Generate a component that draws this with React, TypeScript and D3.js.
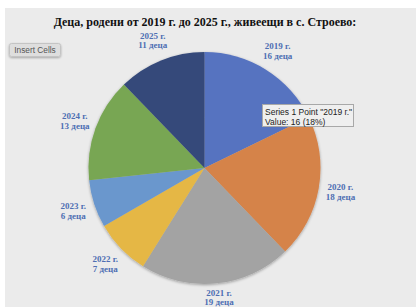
import React from "react";
import * as d3 from "d3";

const categories = ["2019 г.", "2020 г.", "2021 г.", "2022 г.", "2023 г.", "2024 г.", "2025 г."];
const values = [16, 18, 19, 7, 6, 13, 11];
const valueLabels = ["16 деца", "18 деца", "19 деца", "7 деца", "6 деца", "13 деца", "11 деца"];
const colors = ["#5673c0", "#d5834a", "#a3a3a3", "#e5b745", "#6a97cd", "#78a653", "#34497a"];
const title = "Деца, родени от 2019 г. до 2025 г., живеещи в с. Строево:";
const tooltipLines = ["Series 1 Point \"2019 г.\"", "Value: 16 (18%)"];

const W = 417;
const H = 307;

export default function App() {
  const cx = 204.5;
  const cy = 168;
  const r = 116;
  const labelR = 138;

  const pie = d3.pie<number>().sort(null).value((d) => d);
  const arcs = pie(values);
  const arcGen = d3.arc<d3.PieArcDatum<number>>().innerRadius(0).outerRadius(r);

  return (
    <svg
      width={W}
      height={H}
      style={{ position: "absolute", left: 0, top: 0, display: "block" }}
    >
      <defs>
        <filter id="sh" x="-20%" y="-20%" width="140%" height="140%">
          <feGaussianBlur in="SourceAlpha" stdDeviation="1.5" />
          <feOffset dx="0" dy="0.5" result="b" />
          <feComponentTransfer>
            <feFuncA type="linear" slope="0.35" />
          </feComponentTransfer>
          <feMerge>
            <feMergeNode />
            <feMergeNode in="SourceGraphic" />
          </feMerge>
        </filter>
        <filter id="bsh" x="-20%" y="-30%" width="140%" height="160%">
          <feGaussianBlur in="SourceAlpha" stdDeviation="1" />
          <feOffset dx="0" dy="1" />
          <feComponentTransfer>
            <feFuncA type="linear" slope="0.3" />
          </feComponentTransfer>
          <feMerge>
            <feMergeNode />
            <feMergeNode in="SourceGraphic" />
          </feMerge>
        </filter>
      </defs>
      <rect x={0} y={0} width={W} height={H} fill="#ffffff" />
      <rect x={5} y={8} width={411} height={H - 8} fill="#ebebeb" />
      <text
        x={205}
        y={26}
        textAnchor="middle"
        fontFamily="'Liberation Serif', 'Times New Roman', serif"
        fontWeight="bold"
        fontSize={12}
        fill="#111"
      >
        {title}
      </text>

      <g transform={`translate(${cx},${cy})`} filter="url(#sh)">
        {arcs.map((a, i) => (
          <path key={categories[i]} d={arcGen(a) || ""} fill={colors[i]} />
        ))}
      </g>

      {arcs.map((a, i) => {
        const mid = (a.startAngle + a.endAngle) / 2;
        const x = cx + labelR * Math.sin(mid);
        let y = cy - labelR * Math.cos(mid);
        y = Math.min(y, 297);
        return (
          <text
            key={"l" + i}
            x={x}
            textAnchor="middle"
            fontFamily="'Liberation Serif', 'Times New Roman', serif"
            fontWeight="bold"
            fontSize={9}
            fill="#4e6fb3"
          >
            <tspan x={x} y={y - 1.5}>{categories[i]}</tspan>
            <tspan x={x} y={y + 8}>{valueLabels[i]}</tspan>
          </text>
        );
      })}

      <g filter="url(#bsh)">
        <rect x={9.5} y={43.5} width={51} height={13} rx={2} fill="#dedede" stroke="#c4c4c4" />
      </g>
      <text
        x={35}
        y={53}
        textAnchor="middle"
        fontFamily="'Liberation Sans', Arial, sans-serif"
        fontSize={8.3}
        fill="#555"
      >
        Insert Cells
      </text>

      <rect x={262.5} y={104.5} width={91} height={22} fill="#efefef" stroke="#a8a8a8" />
      <text fontFamily="'Liberation Sans', Arial, sans-serif" fontSize={8.5} fill="#222">
        <tspan x={265} y={115}>{tooltipLines[0]}</tspan>
        <tspan x={265} y={124.5}>{tooltipLines[1]}</tspan>
      </text>
    </svg>
  );
}
